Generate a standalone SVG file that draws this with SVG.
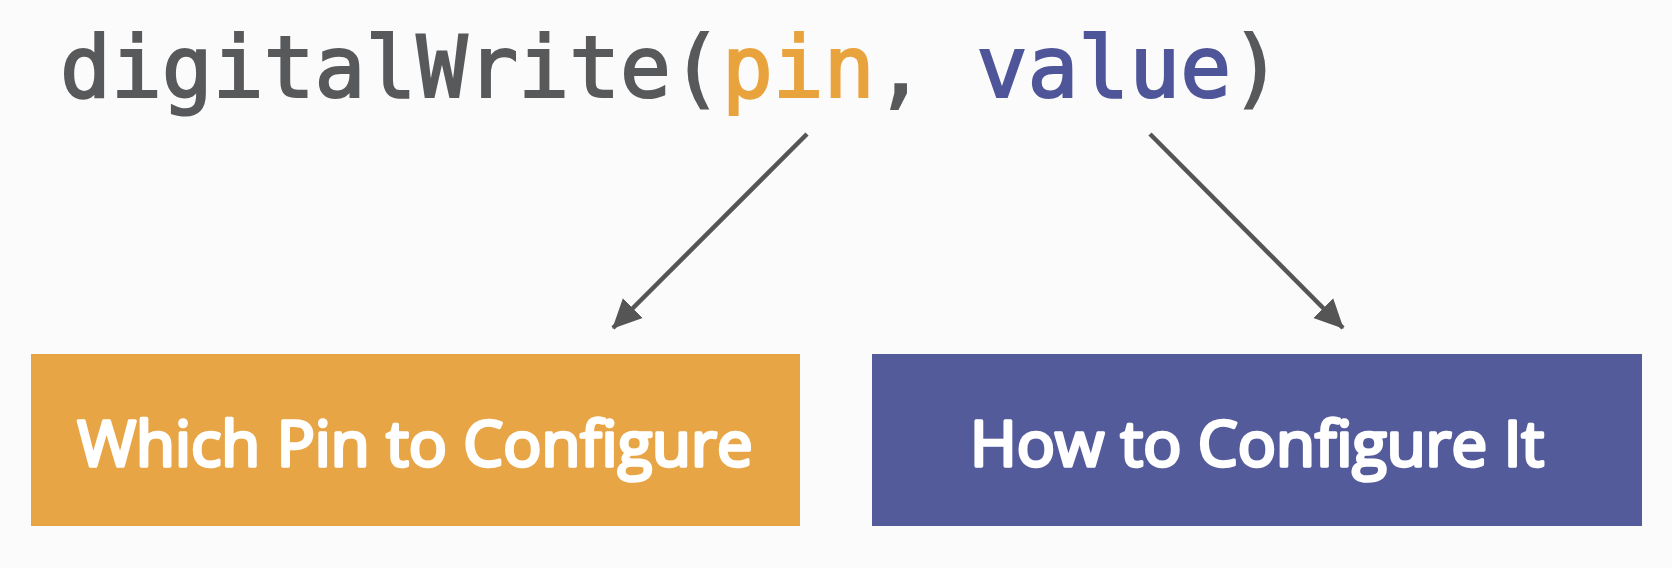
<svg xmlns="http://www.w3.org/2000/svg" width="1672" height="568" viewBox="0 0 1672 568">
  <style>
    .code { font-family: "DejaVu Sans Mono", "Liberation Mono", monospace; font-weight: normal; font-size: 86px; fill: #58595b; stroke: #58595b; stroke-width: 2.2; }
    .pin { fill: #e9a33d; stroke: #e9a33d; }
    .val { fill: #4f5599; stroke: #4f5599; }
    .label { font-family: "Open Sans", "Liberation Sans", sans-serif; font-weight: normal; font-size: 62px; fill: #ffffff; stroke: #ffffff; stroke-width: 3.4; stroke-linejoin: round; text-anchor: middle; }
    .conn { stroke: #555555; stroke-width: 4.5; fill: none; marker-end: url(#arrow); }
  </style>
  <defs>
    <marker id="arrow" markerUnits="userSpaceOnUse" markerWidth="30" markerHeight="30" viewBox="0 0 30 30" refX="28" refY="15" orient="auto">
      <path d="M0,1 L29,15 L0,29 Z" fill="#555555"/>
    </marker>
  </defs>
  <rect width="1672" height="568" fill="#fbfbfb"/>
  <g id="title">
    <text class="code" x="60" y="97" textLength="1222" lengthAdjust="spacingAndGlyphs">digitalWrite(<tspan class="pin">pin</tspan>, <tspan class="val">value</tspan>)</text>
  </g>
  <g id="connectors">
    <line class="conn" x1="807" y1="134" x2="613" y2="328"/>
    <line class="conn" x1="1150" y1="134" x2="1343" y2="328"/>
  </g>
  <g id="node-pin">
    <rect x="31" y="354" width="769" height="172" fill="#e8a545"/>
    <text class="label" x="415" y="466" textLength="675" lengthAdjust="spacingAndGlyphs">Which Pin to Configure</text>
  </g>
  <g id="node-value">
    <rect x="872" y="354" width="770" height="172" fill="#545b9b"/>
    <text class="label" x="1257" y="466" textLength="574" lengthAdjust="spacingAndGlyphs">How to Configure It</text>
  </g>
</svg>
